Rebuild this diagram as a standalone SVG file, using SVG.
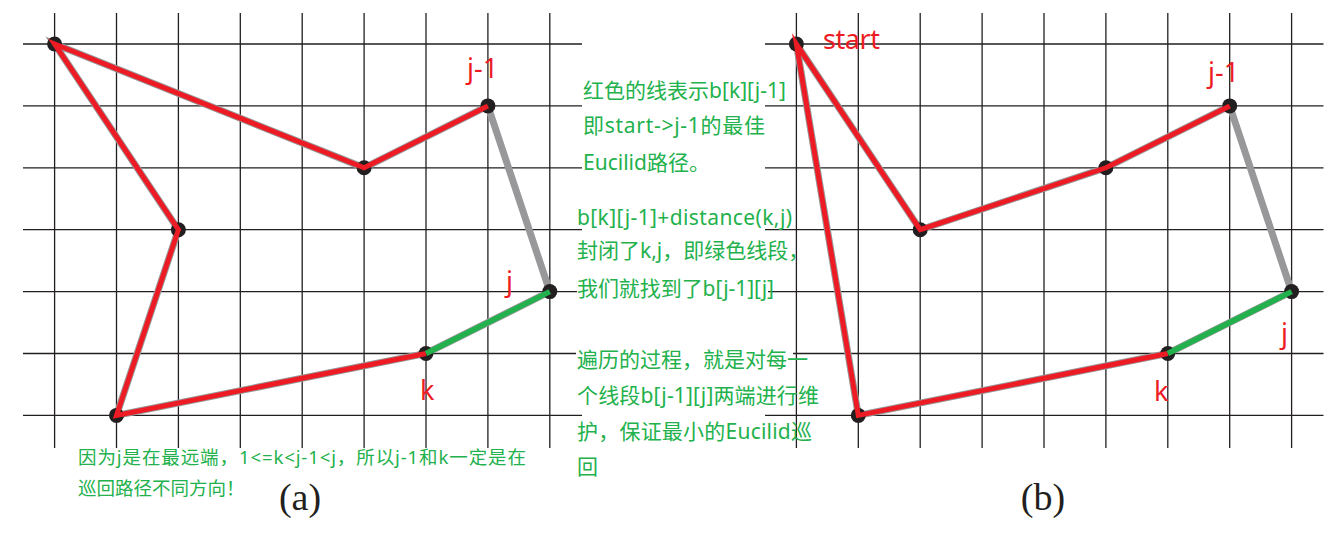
<svg xmlns="http://www.w3.org/2000/svg" width="1338" height="534" viewBox="0 0 1338 534">
<style>
.grid{stroke:#231f20;stroke-width:1.3;fill:none}
.tour{stroke:#98989b;stroke-width:7;fill:none;stroke-linejoin:miter}
.red{stroke:#ed1c24;stroke-width:5;fill:none;stroke-linejoin:miter;stroke-miterlimit:6}
.grn{stroke:#22b14c;stroke-width:5.5;fill:none}
.dot{fill:#231f20}
.lbl{font-family:"Noto Sans","Open Sans",sans-serif;font-size:27px;fill:#ed1c24}
.note{font-family:"Noto Sans","Noto Sans CJK SC",sans-serif;font-size:21px;fill:#22b14c}
.note2{font-family:"Noto Sans","Noto Sans CJK SC",sans-serif;font-size:18.5px;fill:#22b14c}
.cap{font-family:"Liberation Serif",serif;font-size:38px;fill:#231f20;text-anchor:middle}
</style>
<rect width="1338" height="534" fill="#fff"/>
<path class="grid" d="M54.6 13V448M116.5 13V448M178.4 13V448M240.3 13V448M302.2 13V448M364.1 13V448M426 13V448M487.9 13V448M549.8 13V448M23 44H582M23 105.9H582M23 167.8H582M23 229.7H582M23 291.6H577M23 353.5H576M23 415.4H582"/>
<path class="grid" d="M796.4 13V448M858.3 13V448M920.2 13V448M982.1 13V448M1044 13V448M1105.9 13V448M1167.8 13V448M1229.7 13V448M1291.6 13V448M765 44H1323.5M765 105.9H1323.5M765 167.8H1323.5M765 229.7H1323.5M768 291.6H1323.5M793 353.5H1323.5M765 415.4H1323.5"/>
<g id="tours">
<polygon class="tour" points="54.6,44 364.1,167.8 487.9,105.9 549.8,291.6 426,353.5 116.5,415.4 178.4,229.7"/>
<polygon class="tour" points="796.4,44 920.2,229.7 1105.9,167.8 1229.7,105.9 1291.6,291.6 1167.8,353.5 858.3,415.4"/>
</g>
<g id="a-n1"><circle class="dot" cx="54.6" cy="44" r="7.5"/></g>
<g id="a-n2"><circle class="dot" cx="364.1" cy="167.8" r="7.5"/></g>
<g id="a-j1"><circle class="dot" cx="487.9" cy="105.9" r="7.5"/><text class="lbl" x="467" y="78">j-1</text></g>
<g id="a-j"><circle class="dot" cx="549.8" cy="291.6" r="7.5"/><text class="lbl" x="506" y="291">j</text></g>
<g id="a-k"><circle class="dot" cx="426" cy="353.5" r="7.5"/><text class="lbl" x="420" y="400">k</text></g>
<g id="a-n6"><circle class="dot" cx="116.5" cy="415.4" r="7.5"/></g>
<g id="a-n7"><circle class="dot" cx="178.4" cy="229.7" r="7.5"/></g>
<g id="b-start"><circle class="dot" cx="796.4" cy="44" r="7.5"/><text class="lbl" x="823" y="49" textLength="57">start</text></g>
<g id="b-n1"><circle class="dot" cx="920.2" cy="229.7" r="7.5"/></g>
<g id="b-n2"><circle class="dot" cx="1105.9" cy="167.8" r="7.5"/></g>
<g id="b-j1"><circle class="dot" cx="1229.7" cy="105.9" r="7.5"/><text class="lbl" x="1208" y="82">j-1</text></g>
<g id="b-j"><circle class="dot" cx="1291.6" cy="291.6" r="7.5"/><text class="lbl" x="1281" y="343">j</text></g>
<g id="b-k"><circle class="dot" cx="1167.8" cy="353.5" r="7.5"/><text class="lbl" x="1154" y="401">k</text></g>
<g id="b-n6"><circle class="dot" cx="858.3" cy="415.4" r="7.5"/></g>
<g id="connectors">
<polyline class="red" points="426,353.5 116.5,415.4 178.4,229.7 54.6,44 364.1,167.8 487.9,105.9"/>
<line class="grn" x1="549.8" y1="291.6" x2="426" y2="353.5"/>
<polyline class="red" points="1167.8,353.5 858.3,415.4 796.4,44 920.2,229.7 1105.9,167.8 1229.7,105.9"/>
<line class="grn" x1="1291.6" y1="291.6" x2="1167.8" y2="353.5"/>
</g>
<g id="notes">
<text class="note" x="583" y="97.5" textLength="203">红色的线表示b[k][j-1]</text>
<text class="note" x="583" y="133" textLength="182">即start-&gt;j-1的最佳</text>
<text class="note" x="583" y="169.5">Eucilid路径。</text>
<text class="note" x="577" y="225" textLength="215">b[k][j-1]+distance(k,j)</text>
<text class="note" x="577" y="258">封闭了k,j，即绿色线段，</text>
<text class="note" x="577" y="296" textLength="197">我们就找到了b[j-1][j]</text>
<text class="note" x="577" y="367" textLength="231">遍历的过程，就是对每一</text>
<text class="note" x="577" y="402.5" textLength="242">个线段b[j-1][j]两端进行维</text>
<text class="note" x="577" y="439" textLength="235">护，保证最小的Eucilid巡</text>
<text class="note" x="577" y="474">回</text>
<text class="note2" x="78" y="464" textLength="448">因为j是在最远端，1&lt;=k&lt;j-1&lt;j，所以j-1和k一定是在</text>
<text class="note2" x="78" y="495">巡回路径不同方向！</text>
</g>
<text class="cap" x="300" y="510">(a)</text>
<text class="cap" x="1043" y="510">(b)</text>
</svg>
